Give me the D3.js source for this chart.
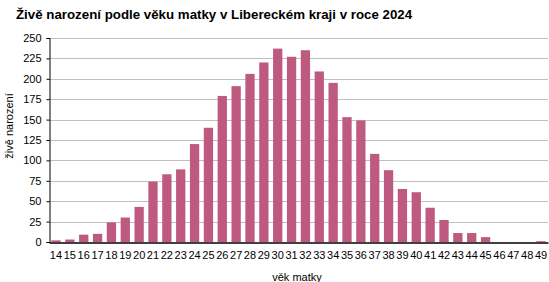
<!DOCTYPE html>
<html>
<head>
<meta charset="utf-8">
<script src="https://cdn.jsdelivr.net/npm/d3@7"></script>
<style>
  body { margin: 0; background: #fff; }
  svg { display: block; font-family: "Liberation Sans", Arial, sans-serif; }
</style>
</head>
<body>
<div id="viz"></div>
<script>
const title = "Živě narození podle věku matky v Libereckém kraji v roce 2024";
const ages = ["14","15","16","17","18","19","20","21","22","23","24","25","26","27","28","29","30","31",
  "32","33","34","35","36","37","38","39","40","41","42","43","44","45","46","47","48","49"];
const births = [2, 3, 9, 10, 24, 30, 43, 74, 83, 89, 120, 140, 179, 191, 206, 220, 237, 227,
  235, 209, 195, 153, 149, 108, 88, 65, 61, 42, 27, 11, 11, 6, 0, 0, 0, 1];
const yTicks = [0, 25, 50, 75, 100, 125, 150, 175, 200, 225, 250];

const width = 549, height = 282;
const m = { left: 49, right: 1, top: 38, bottom: 40 };

const svg = d3.select("#viz").append("svg")
  .attr("width", width)
  .attr("height", height);

const x = d3.scaleBand()
  .domain(ages)
  .range([m.left, width - m.right])
  .paddingInner(0.33)
  .paddingOuter(0.17);

const y = d3.scaleLinear()
  .domain([0, 250])
  .range([height - m.bottom, m.top]);

// mřížka
svg.append("g")
  .selectAll("line")
  .data(yTicks.slice(1))
  .join("line")
  .attr("x1", m.left)
  .attr("x2", width - m.right)
  .attr("y1", d => Math.round(y(d)) + 0.5)
  .attr("y2", d => Math.round(y(d)) + 0.5)
  .attr("stroke", "#c0c0c0")
  .attr("stroke-width", 1);

svg.append("g")
  .selectAll("rect")
  .data(births)
  .join("rect")
  .attr("x", (d, i) => x(ages[i]))
  .attr("width", x.bandwidth())
  .attr("y", d => y(d))
  .attr("height", d => y(0) - y(d))
  .attr("fill", "#be5a80");

const yAxis = svg.append("g")
  .attr("transform", `translate(${m.left + 0.5},0)`)
  .call(d3.axisLeft(y).tickValues(yTicks).tickSizeOuter(0).tickSize(3).tickPadding(5));
yAxis.select(".domain").attr("stroke", "#000");
yAxis.selectAll(".tick line").attr("stroke", "#000");
yAxis.selectAll("text").attr("font-size", 11).attr("fill", "#000")
  .attr("font-family", "Liberation Sans, Arial, sans-serif");

const xAxis = svg.append("g")
  .attr("transform", `translate(0,${Math.round(y(0)) + 0.5})`)
  .call(d3.axisBottom(x).tickSize(0).tickPadding(9).tickSizeOuter(0));
xAxis.select(".domain").attr("stroke", "#000").attr("stroke-width", 1.3);
xAxis.selectAll("text").attr("font-size", 11).attr("fill", "#000")
  .attr("font-family", "Liberation Sans, Arial, sans-serif");

svg.append("text")
  .attr("x", 16)
  .attr("y", 19)
  .attr("font-size", 13.3)
  .attr("font-weight", "bold")
  .attr("fill", "#000")
  .text(title);

svg.append("text")
  .attr("x", 297)
  .attr("y", 281)
  .attr("text-anchor", "middle")
  .attr("font-size", 11)
  .attr("fill", "#000")
  .text("věk matky");

svg.append("text")
  .attr("transform", "translate(13,126) rotate(-90)")
  .attr("text-anchor", "middle")
  .attr("font-size", 11)
  .attr("fill", "#000")
  .text("živě narození");
</script>
</body>
</html>
